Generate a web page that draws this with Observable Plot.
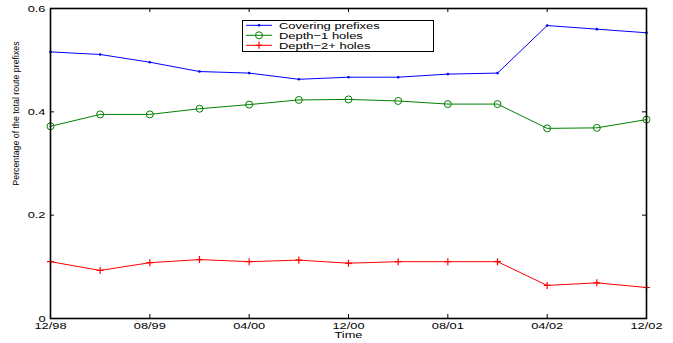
<!DOCTYPE html>
<html><head><meta charset="utf-8">
<script src="https://cdn.jsdelivr.net/npm/d3@7"></script>
<script src="https://cdn.jsdelivr.net/npm/@observablehq/plot@0.6"></script>
<style>
body{margin:0;background:#fff;}
#chart{position:relative;width:673px;height:343px;font-family:"Liberation Sans",Arial,sans-serif;}
#chart svg{display:block;}
#legend{position:absolute;left:0;top:0;pointer-events:none;}
</style></head><body><div id="chart"></div>
<script>
// ---- data ----
const periods = ["12/98","04/99","08/99","12/99","04/00","08/00","12/00","04/01","08/01","12/01","04/02","08/02","12/02"];
const coveringPrefixes = [0.516,0.511,0.496,0.478,0.475,0.463,0.467,0.467,0.473,0.475,0.567,0.560,0.553];
const depth1Holes      = [0.372,0.395,0.395,0.406,0.414,0.423,0.424,0.421,0.415,0.415,0.368,0.369,0.385];
const depth2Holes      = [0.110,0.093,0.108,0.114,0.110,0.113,0.107,0.110,0.110,0.110,0.064,0.069,0.060];
const xTickLabels = ["12/98","08/99","04/00","12/00","08/01","04/02","12/02"];
const yTicks = [0, 0.2, 0.4, 0.6];
const seriesNames = ["Covering prefixes", "Depth\u22121 holes", "Depth\u22122+ holes"];
const seriesColors = ["#0000ff", "#008000", "#ff0000"];
const xLabel = "Time";
const yLabel = "Percentage of the total route prefixes";

// ---- build table ----
const monthIndex = s => { const [m, y] = s.split("/").map(Number); return (y < 50 ? 2000 + y : 1900 + y) * 12 + m - 1; };
const m0 = monthIndex(periods[0]);
const toX = s => monthIndex(s) - m0;
const rows = [];
[coveringPrefixes, depth1Holes, depth2Holes].forEach((vals, i) =>
  vals.forEach((v, j) => rows.push({series: seriesNames[i], x: toX(periods[j]), y: v})));
const xTicks = xTickLabels.map(toX);
const xMax = toX(periods[periods.length - 1]);
const yMax = yTicks[yTicks.length - 1];
const tickLenY = 0.0078, tickLenX = 0.32;
const ser = i => rows.filter(r => r.series === seriesNames[i]);

const plot = Plot.plot({
  width: 673, height: 343,
  marginLeft: 50, marginRight: 27, marginTop: 8, marginBottom: 25,
  style: {fontFamily: '"Liberation Sans", Arial, sans-serif', background: "#fff", color: "#000"},
  x: {domain: [0, xMax]},
  y: {domain: [0, yMax]},
  color: {domain: seriesNames, range: seriesColors},
  marks: [
    Plot.ruleX(xTicks, {x: d => d, y1: 0, y2: tickLenY, stroke: "#000", strokeWidth: 1}),
    Plot.ruleX(xTicks, {x: d => d, y1: yMax - tickLenY, y2: yMax, stroke: "#000", strokeWidth: 1}),
    Plot.ruleY(yTicks, {y: d => d, x1: 0, x2: tickLenX, stroke: "#000", strokeWidth: 1}),
    Plot.ruleY(yTicks, {y: d => d, x1: xMax - tickLenX, x2: xMax, stroke: "#000", strokeWidth: 1}),
    Plot.line(rows, {x: "x", y: "y", z: "series", stroke: "series", strokeWidth: 1}),
    Plot.dot(ser(0), {x: "x", y: "y", r: 1.3, fill: seriesColors[0], stroke: "none"}),
    Plot.dot(ser(1), {x: "x", y: "y", r: 3.5, fill: "none", stroke: seriesColors[1], strokeWidth: 1}),
    Plot.dot(ser(2), {x: "x", y: "y", r: 2.4, symbol: "plus", stroke: seriesColors[2], strokeWidth: 1.2}),
    Plot.frame({stroke: "#000", strokeWidth: 1.6}),
    Plot.axisX({ticks: xTicks, tickFormat: d => xTickLabels[xTicks.indexOf(d)], tickSize: 0, tickPadding: 4, fontSize: 9.5, label: null}),
    Plot.axisY({ticks: yTicks, tickFormat: d => String(d), tickSize: 0, tickPadding: 5, fontSize: 9.5, label: null}),
    Plot.text([xLabel], {text: d => d, frameAnchor: "bottom", dy: 19, fontSize: 9.5}),
    Plot.text([yLabel], {text: d => d, frameAnchor: "left", textAnchor: "middle", rotate: -90, dx: -34, dy: -50, fontSize: 8.8})
  ]
});

const chart = document.getElementById("chart");
chart.appendChild(plot);

// legend overlay
const lg = d3.select(chart).append("svg").attr("id", "legend").attr("width", 673).attr("height", 343)
  .style("font-family", '"Liberation Sans", Arial, sans-serif');
lg.append("rect").attr("x", 242.5).attr("y", 20.5).attr("width", 191).attr("height", 31)
  .attr("fill", "#fff").attr("stroke", "#000").attr("stroke-width", 1);
seriesNames.forEach((name, i) => {
  const y = 25.3 + i * 10;
  const g = lg.append("g");
  g.append("line").attr("x1", 246).attr("x2", 272).attr("y1", y).attr("y2", y).attr("stroke", seriesColors[i]);
  if (i === 0) g.append("circle").attr("cx", 259).attr("cy", y).attr("r", 1.3).attr("fill", seriesColors[i]);
  if (i === 1) g.append("circle").attr("cx", 259).attr("cy", y).attr("r", 3.5).attr("fill", "none").attr("stroke", seriesColors[i]);
  if (i === 2) g.append("path").attr("d", `M${255.5},${y}H${262.5}M259,${y - 3.5}V${y + 3.5}`).attr("stroke", seriesColors[i]).attr("stroke-width", 1.2);
  g.append("text").attr("transform", `translate(279,${y}) scale(1.35,1)`).attr("dy", "0.35em")
    .attr("font-size", 9.6).attr("fill", "#000").text(name);
});

// horizontally stretch non-rotated labels (about their anchor point) to match the reference's wide lettering
const svgNS = "http://www.w3.org/2000/svg";
d3.select(plot).selectAll("text").nodes().forEach(node => {
  const t = node.getAttribute("transform") || "";
  if (t.includes("rotate")) return;
  const bb = node.getBBox();
  const anchor = getComputedStyle(node).textAnchor || "start";
  const ax = anchor === "middle" ? bb.x + bb.width / 2 : anchor === "end" ? bb.x + bb.width : bb.x;
  const ay = bb.y + bb.height / 2;
  let px = ax, py = ay;
  const c = node.transform && node.transform.baseVal.consolidate();
  if (c) { const m = c.matrix; px = m.a * ax + m.c * ay + m.e; py = m.b * ax + m.d * ay + m.f; }
  const g = document.createElementNS(svgNS, "g");
  node.parentNode.insertBefore(g, node);
  g.appendChild(node);
  g.setAttribute("transform", `translate(${px},${py}) scale(1.35,1) translate(${-px},${-py})`);
});
</script></body></html>
